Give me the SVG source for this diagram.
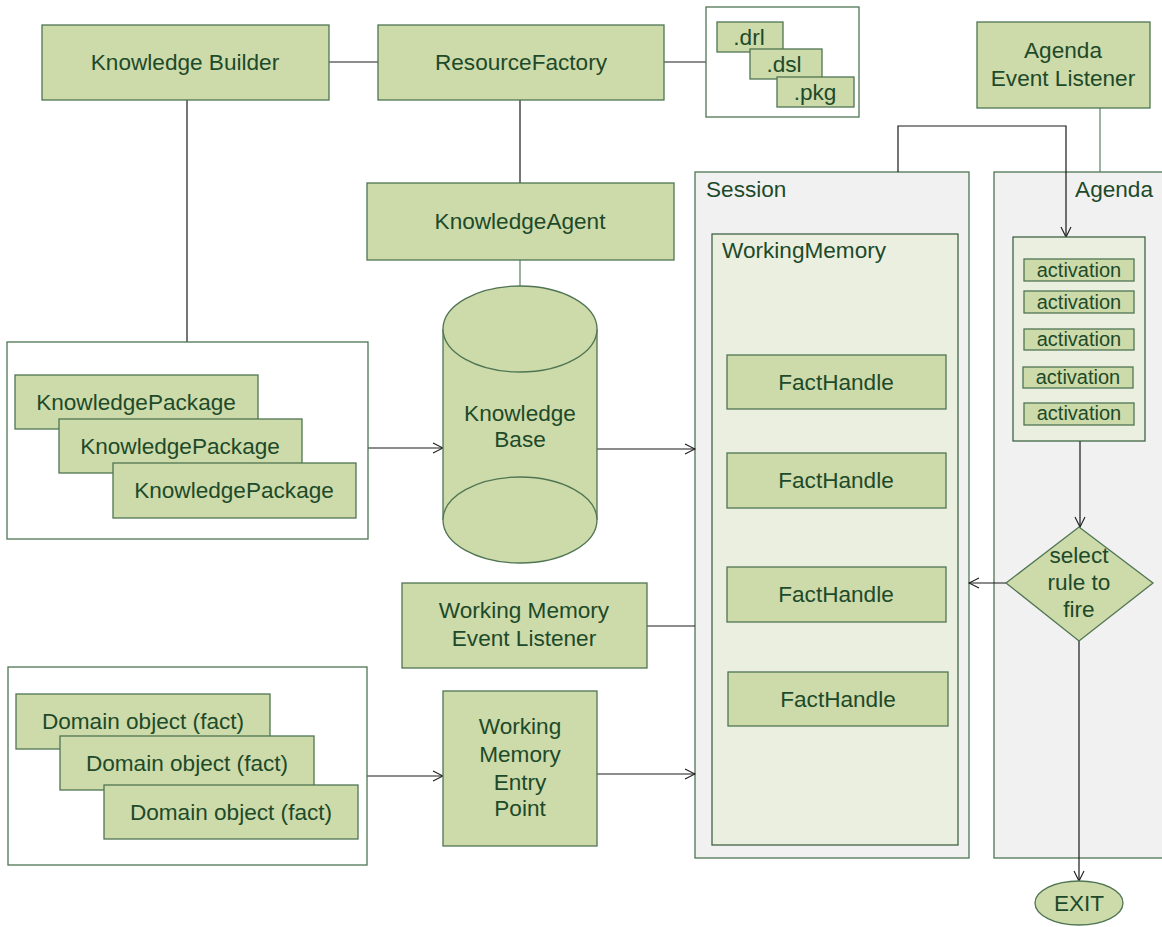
<svg xmlns="http://www.w3.org/2000/svg" width="1162" height="927" viewBox="0 0 1162 927">
  <style>
    .node { fill: #cddaa9; stroke: #4f7553; stroke-width: 1.3; }
    .frame { fill: #ffffff; stroke: #4f7553; stroke-width: 1.3; }
    .panel { fill: #f1f1f1; stroke: #4f7553; stroke-width: 1.3; }
    .inner { fill: #ebefdf; stroke: #3f6446; stroke-width: 1.3; }
    text { font-family: "Liberation Sans", Arial, sans-serif; font-size: 22.6px; fill: #1d4a2a; }
    .c { text-anchor: middle; }
    .small { font-size: 20px; }
    .link { fill: none; stroke: #1a1a1a; stroke-width: 1.2; }
    .soft { fill: none; stroke: #5b7f63; stroke-width: 1.2; }
  </style>
  <defs>
    <marker id="arrow" viewBox="0 0 12 12" refX="11" refY="6" markerWidth="12" markerHeight="12" markerUnits="userSpaceOnUse" orient="auto">
      <path d="M1,1 L11,6 L1,11" fill="none" stroke="#1a1a1a" stroke-width="1.1"/>
    </marker>
  </defs>

  <rect width="1162" height="927" fill="#ffffff"/>

  <!-- large containers -->
  <g id="session">
    <rect class="panel" x="695" y="172" width="274" height="686"/>
    <text x="706" y="197">Session</text>
  </g>
  <g id="agenda">
    <rect class="panel" x="994" y="172" width="180" height="686"/>
    <text x="1153" y="197" text-anchor="end">Agenda</text>
  </g>
  <g id="working-memory">
    <rect class="inner" x="712" y="234" width="246" height="611"/>
    <text x="722" y="258">WorkingMemory</text>
  </g>

  <!-- connectors -->
  <g id="connectors">
    <path class="link" d="M329,62 H378"/>
    <path class="link" d="M664,62 H706"/>
    <path class="link" d="M187,100 V342"/>
    <path class="link" d="M520,100 V183"/>
    <path class="soft" d="M520,260 V286"/>
    <path class="soft" d="M1100,108 V172"/>
    <path class="link" d="M898,172 V126 H1066 V237" marker-end="url(#arrow)"/>
    <path class="link" d="M368,448 H443" marker-end="url(#arrow)"/>
    <path class="link" d="M597,449 H695" marker-end="url(#arrow)"/>
    <path class="link" d="M647,626 H695"/>
    <path class="link" d="M367,776 H443" marker-end="url(#arrow)"/>
    <path class="link" d="M597,774 H695" marker-end="url(#arrow)"/>
    <path class="link" d="M1080,441 V527" marker-end="url(#arrow)"/>
    <path class="link" d="M1006,583 H969" marker-end="url(#arrow)"/>
    <path class="link" d="M1079,641 V881" marker-end="url(#arrow)"/>
  </g>

  <g id="knowledge-builder">
    <rect class="node" x="42" y="25" width="287" height="75"/>
    <text class="c" x="185" y="70">Knowledge Builder</text>
  </g>
  <g id="resource-factory">
    <rect class="node" x="378" y="25" width="286" height="75"/>
    <text class="c" x="521" y="70">ResourceFactory</text>
  </g>
  <g id="resource-files">
    <rect class="frame" x="706" y="7" width="153" height="110"/>
    <rect class="node" x="717" y="22" width="66" height="30"/>
    <text class="c" x="749" y="45">.drl</text>
    <rect class="node" x="750" y="49" width="72" height="30"/>
    <text class="c" x="784" y="72">.dsl</text>
    <rect class="node" x="777" y="77" width="77" height="30"/>
    <text class="c" x="815" y="100">.pkg</text>
  </g>
  <g id="agenda-event-listener">
    <rect class="node" x="977" y="22" width="173" height="86"/>
    <text class="c" x="1063" y="58">Agenda</text>
    <text class="c" x="1063" y="86">Event Listener</text>
  </g>
  <g id="knowledge-agent">
    <rect class="node" x="367" y="183" width="307" height="77"/>
    <text class="c" x="520" y="229">KnowledgeAgent</text>
  </g>
  <g id="knowledge-packages">
    <rect class="frame" x="7" y="342" width="361" height="197"/>
    <rect class="node" x="15" y="375" width="243" height="54"/>
    <text class="c" x="136" y="410">KnowledgePackage</text>
    <rect class="node" x="59" y="419" width="243" height="54"/>
    <text class="c" x="180" y="454">KnowledgePackage</text>
    <rect class="node" x="113" y="463" width="243" height="55"/>
    <text class="c" x="234" y="498">KnowledgePackage</text>
  </g>
  <g id="knowledge-base">
    <path class="node" d="M443,329 V520 A77,43 0 0 0 597,520 V329"/>
    <ellipse class="node" cx="520" cy="329" rx="77" ry="43"/>
    <path class="node" d="M443,520 A77,43 0 0 1 597,520" fill="none"/>
    <text class="c" x="520" y="421">Knowledge</text>
    <text class="c" x="520" y="447">Base</text>
  </g>
  <g id="wm-event-listener">
    <rect class="node" x="402" y="583" width="245" height="85"/>
    <text class="c" x="524" y="618">Working Memory</text>
    <text class="c" x="524" y="646">Event Listener</text>
  </g>
  <g id="domain-objects">
    <rect class="frame" x="8" y="667" width="359" height="198"/>
    <rect class="node" x="16" y="694" width="254" height="55"/>
    <text class="c" x="143" y="729">Domain object (fact)</text>
    <rect class="node" x="60" y="736" width="254" height="54"/>
    <text class="c" x="187" y="771">Domain object (fact)</text>
    <rect class="node" x="104" y="785" width="254" height="54"/>
    <text class="c" x="231" y="820">Domain object (fact)</text>
  </g>
  <g id="wm-entry-point">
    <rect class="node" x="443" y="691" width="154" height="155"/>
    <text class="c" x="520" y="734">Working</text>
    <text class="c" x="520" y="762">Memory</text>
    <text class="c" x="520" y="790">Entry</text>
    <text class="c" x="520" y="816">Point</text>
  </g>
  <g id="fact-handles">
    <rect class="node" x="727" y="355" width="219" height="54"/>
    <text class="c" x="836" y="390">FactHandle</text>
    <rect class="node" x="727" y="453" width="219" height="55"/>
    <text class="c" x="836" y="488">FactHandle</text>
    <rect class="node" x="727" y="567" width="219" height="55"/>
    <text class="c" x="836" y="602">FactHandle</text>
    <rect class="node" x="728" y="672" width="220" height="54"/>
    <text class="c" x="838" y="707">FactHandle</text>
  </g>
  <g id="activations">
    <rect class="inner" x="1013" y="237" width="132" height="204"/>
    <rect class="node" x="1024" y="259" width="110" height="22"/>
    <text class="c small" x="1079" y="277">activation</text>
    <rect class="node" x="1024" y="291" width="110" height="22"/>
    <text class="c small" x="1079" y="309">activation</text>
    <rect class="node" x="1024" y="329" width="110" height="21"/>
    <text class="c small" x="1079" y="346">activation</text>
    <rect class="node" x="1023" y="367" width="110" height="21"/>
    <text class="c small" x="1078" y="384">activation</text>
    <rect class="node" x="1024" y="403" width="110" height="22"/>
    <text class="c small" x="1079" y="420">activation</text>
  </g>
  <g id="select-rule">
    <polygon class="node" points="1079,527 1153,583 1079,641 1006,583"/>
    <text class="c" x="1079" y="563">select</text>
    <text class="c" x="1079" y="590">rule to</text>
    <text class="c" x="1079" y="617">fire</text>
  </g>
  <g id="exit">
    <ellipse class="node" cx="1079" cy="903" rx="44" ry="22"/>
    <text class="c" x="1079" y="911">EXIT</text>
  </g>
</svg>
